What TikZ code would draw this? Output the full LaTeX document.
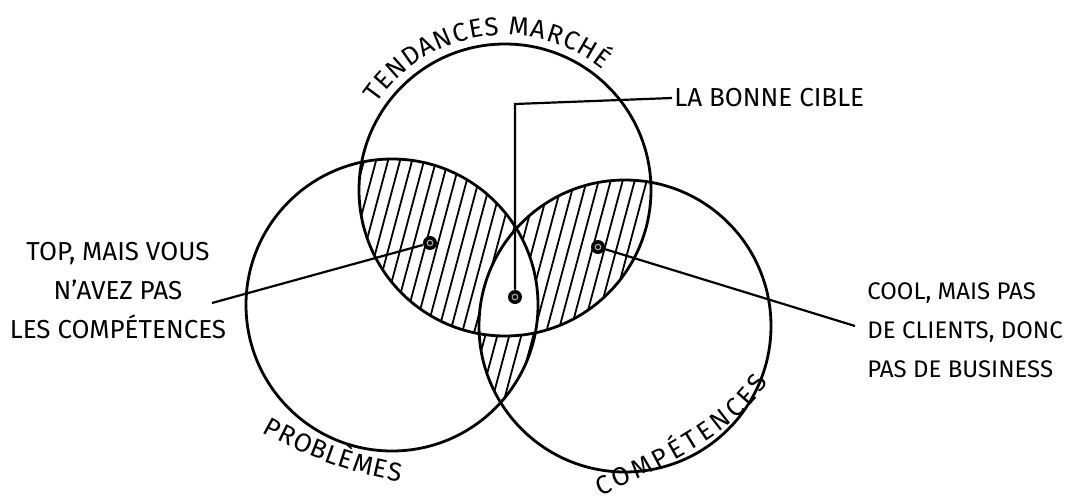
\documentclass[tikz,border=0pt]{standalone}
\usepackage{fontspec}
\setmainfont{Fira Sans}
\usetikzlibrary{calc, decorations.text}
\newcommand\lblfont{\fontsize{13}{19.5}\selectfont}
\tikzset{
  cercle/.style={draw=black, line width=1.4pt},
  hachure/.style={draw=black, line width=0.9pt},
  point/.style={circle, fill=black, inner sep=0pt, minimum size=7pt},
  legende/.style={font=\lblfont, inner sep=1pt},
  fil/.style={draw=black, line width=1.1pt},
  courbe/.style={decorate, decoration={text along path,
    text align=fit to path, text={|\lblfont|#1}}},
}
\begin{document}
\begin{tikzpicture}[x=0.5pt, y=0.5pt]
  \useasboundingbox (0,0) rectangle (1078,-503);

  \coordinate (ctend) at (505,-190);
  \coordinate (cprob) at (392,-305);
  \coordinate (ccomp) at (625,-326);
  \def\R{146}

  % hachures des intersections deux a deux
  \begin{scope}
    \clip (ctend) circle[radius=\R];
    \clip (cprob) circle[radius=\R];
    \foreach \x in {100,112,...,800} \draw[hachure] (\x,-520) -- ++(139,520);
  \end{scope}
  \begin{scope}
    \clip (ctend) circle[radius=\R];
    \clip (ccomp) circle[radius=\R];
    \foreach \x in {100,112,...,800} \draw[hachure] (\x,-520) -- ++(139,520);
  \end{scope}
  \begin{scope}
    \clip (cprob) circle[radius=\R];
    \clip (ccomp) circle[radius=\R];
    \foreach \x in {100,112,...,800} \draw[hachure] (\x,-520) -- ++(139,520);
  \end{scope}
  % le centre reste blanc
  \begin{scope}
    \clip (ctend) circle[radius=\R];
    \clip (cprob) circle[radius=\R];
    \fill[white] (ccomp) circle[radius=\R];
  \end{scope}

  \draw[cercle] (ctend) circle[radius=\R];
  \draw[cercle] (cprob) circle[radius=\R];
  \draw[cercle] (ccomp) circle[radius=\R];

  \path[courbe={TENDANCES MARCHÉ}]
    ($(ctend)+(146:155)$) arc[start angle=146, end angle=51, radius=155];
  \path[courbe={PROBLÈMES}]
    (262,-432) .. controls (306,-457) and (351,-473) .. (400,-482);
  \path[courbe={COMPÉTENCES}]
    (600,-496) .. controls (655,-472) and (738,-434) .. (768,-382);

  \node[point] (pgauche) at (430,-243) {};
  \node[point] (pcible)  at (515,-297) {};
  \node[point] (pdroite) at (598,-247) {};
  \foreach \p in {pgauche, pcible, pdroite}
    \draw[gray!70, line width=0.6pt] (\p) circle[radius=2.8];

  \node[legende, anchor=west] (cible) at (672,-98) {LA BONNE CIBLE};
  \node[legende, align=center] (top) at (118,-291)
    {TOP, MAIS VOUS\\N'AVEZ PAS\\LES COMPÉTENCES};
  \node[legende, align=left, anchor=west, font=\fontsize{12}{19.5}\selectfont]
    (cool) at (865,-330)
    {COOL, MAIS PAS\\DE CLIENTS, DONC\\PAS DE BUSINESS};

  \coordinate (coude) at (515,-104);
  \coordinate (fgauche) at (212,-303);
  \coordinate (fdroite) at (855,-326);
  \draw[fil] (pcible) -- (coude) -- (cible.west);
  \draw[fil] (pgauche) -- (fgauche);
  \draw[fil] (pdroite) -- (fdroite);
\end{tikzpicture}
\end{document}
